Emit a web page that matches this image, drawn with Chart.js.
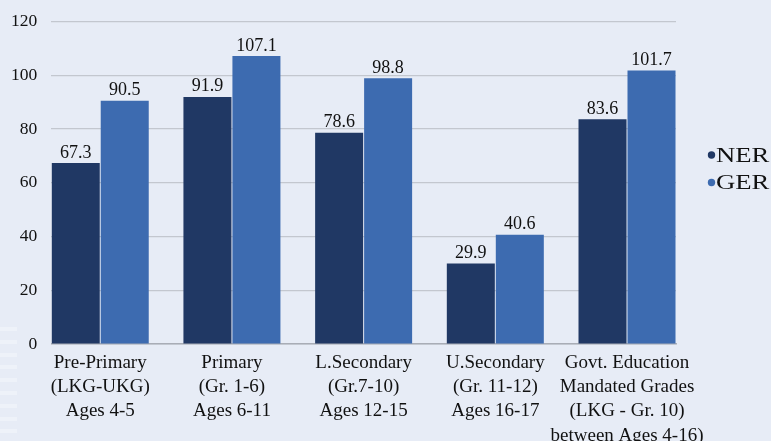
<!DOCTYPE html>
<html>
<head>
<meta charset="utf-8">
<script src="https://cdn.jsdelivr.net/npm/chart.js@4.4.1/dist/chart.umd.min.js"></script>
<style>
  html, body { margin: 0; padding: 0; background: #e7ecf6; }
  #wrap { position: relative; width: 771px; height: 441px; }
  #stripes {
    position: absolute; left: 0; top: 327px; width: 17px; height: 112px;
    background: repeating-linear-gradient(to bottom, rgba(255,255,255,0.3) 0 4px, transparent 4px 12.8px);
  }
</style>
</head>
<body>
<div id="wrap">
  <div id="stripes"></div>
  <canvas id="chart" width="771" height="441"></canvas>
</div>
<script>
const categories = [
  ["Pre-Primary", "(LKG-UKG)", "Ages 4-5"],
  ["Primary", "(Gr. 1-6)", "Ages 6-11"],
  ["L.Secondary", "(Gr.7-10)", "Ages 12-15"],
  ["U.Secondary", "(Gr. 11-12)", "Ages 16-17"],
  ["Govt. Education", "Mandated Grades", "(LKG - Gr. 10)", "between Ages 4-16)"]
]
const seriesNames = ["NER", "GER"]
const nerValues = [67.3, 91.9, 78.6, 29.9, 83.6]
const gerValues = [90.5, 107.1, 98.8, 40.6, 101.7]
const yTicks = [0, 20, 40, 60, 80, 100, 120]

const serif = "'Liberation Serif', 'Times New Roman', serif"
const colors = ["#203864", "#3d6bb0"]

// bars sit right on the plot edges, so use a numeric x axis with a small margin
const edge = 0.372

// value labels over the bars
const barLabels = {
  id: 'barLabels',
  afterDatasetsDraw(chart) {
    const ctx = chart.ctx
    ctx.save()
    ctx.font = "18px " + serif
    ctx.fillStyle = "#111"
    ctx.textAlign = "center"
    ctx.textBaseline = "alphabetic"
    chart.data.datasets.forEach((ds, i) => {
      chart.getDatasetMeta(i).data.forEach((bar, j) => {
        ctx.fillText(ds.data[j].y.toFixed(1), bar.x, bar.y - 5.5)
      })
    })
    ctx.restore()
  }
}

// legend on the right with round markers (text is a bit wide in the original)
const sideLegend = {
  id: 'sideLegend',
  afterDraw(chart) {
    const ctx = chart.ctx
    const x = chart.chartArea.right + 35.5
    let y = 155
    ctx.save()
    ctx.font = "21px " + serif
    ctx.textBaseline = "middle"
    chart.data.datasets.forEach(ds => {
      ctx.fillStyle = ds.backgroundColor
      ctx.beginPath()
      ctx.arc(x, y, 3.7, 0, Math.PI * 2)
      ctx.fill()
      ctx.fillStyle = "#111"
      ctx.save()
      ctx.translate(x + 4.5, y + 1)
      ctx.scale(1.27, 1)
      ctx.fillText(ds.label, 0, 0)
      ctx.restore()
      y += 27.5
    })
    ctx.restore()
  }
}

const ctx = document.getElementById('chart').getContext('2d')
const chart = new Chart(ctx, {
  type: 'bar',
  data: {
    datasets: [
      {
        label: seriesNames[0],
        data: nerValues.map((v, i) => ({ x: i, y: v })),
        backgroundColor: colors[0],
        borderWidth: 0,
        categoryPercentage: 0.744,
        barPercentage: 0.98
      },
      {
        label: seriesNames[1],
        data: gerValues.map((v, i) => ({ x: i, y: v })),
        backgroundColor: colors[1],
        borderWidth: 0,
        categoryPercentage: 0.744,
        barPercentage: 0.98
      }
    ]
  },
  options: {
    responsive: false,
    animation: false,
    layout: { padding: { left: -3, right: 95, top: 0, bottom: -13.3 } },
    plugins: {
      legend: { display: false },
      tooltip: { enabled: false }
    },
    scales: {
      x: {
        type: 'linear',
        bounds: 'data',
        offset: false,
        min: -edge,
        max: categories.length - 1 + edge,
        afterBuildTicks: axis => { axis.ticks = categories.map((_, i) => ({ value: i })) },
        grid: { display: false, drawTicks: false },
        border: { display: true, color: "#a9adb6", width: 1.5 },
        ticks: {
          autoSkip: false,
          includeBounds: false,
          maxRotation: 0,
          padding: 6.5,
          color: "#111",
          font: { family: serif, size: 19, lineHeight: 1.28 },
          callback: v => categories[Math.round(v)]
        }
      },
      y: {
        min: 0,
        max: 120,
        afterBuildTicks: axis => { axis.ticks = yTicks.map(v => ({ value: v })) },
        grid: { color: "#c3c7cf", lineWidth: 1.2, drawTicks: false },
        border: { display: false },
        ticks: {
          padding: 14,
          color: "#111",
          font: { family: serif, size: 17.5, lineHeight: 0.84 }
        }
      }
    }
  },
  plugins: [barLabels, sideLegend]
})
</script>
</body>
</html>
